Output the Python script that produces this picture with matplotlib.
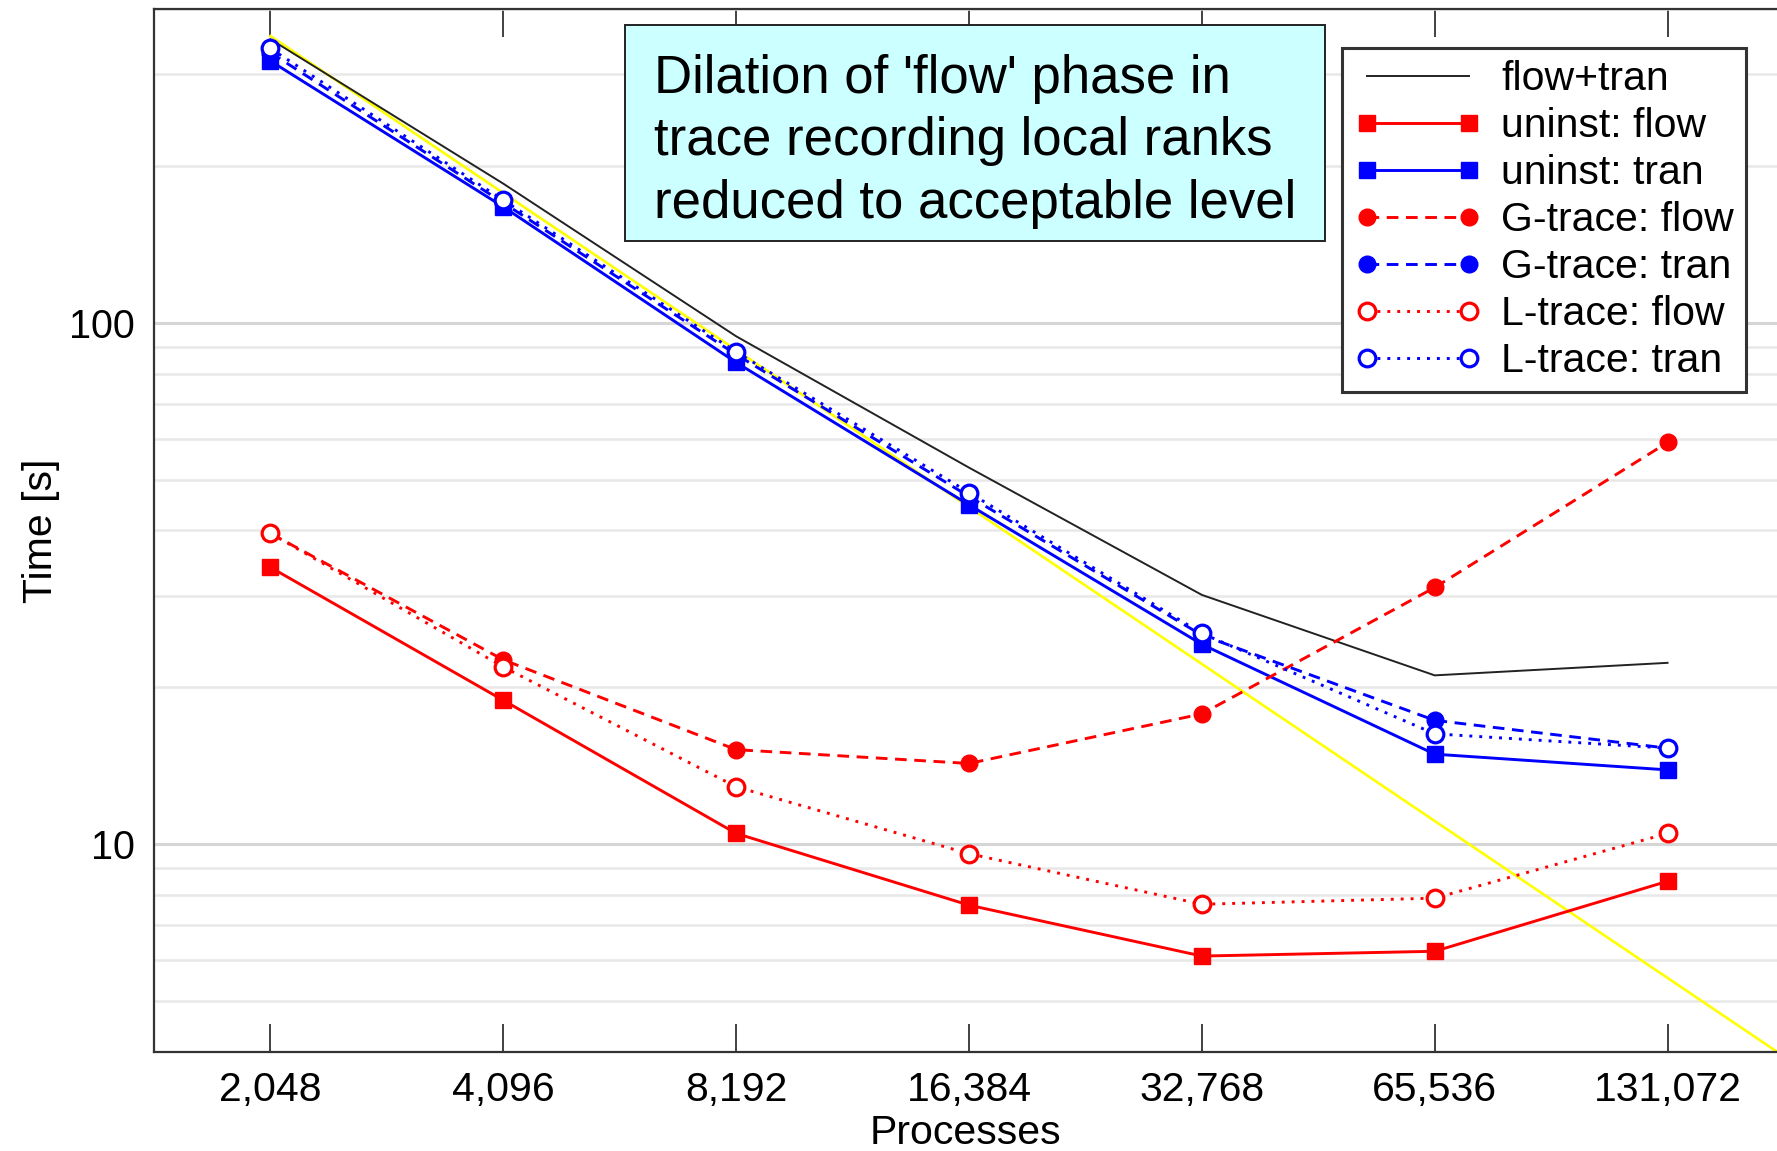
import matplotlib
matplotlib.use("Agg")
import matplotlib.pyplot as plt
from matplotlib.patches import Rectangle
from matplotlib.ticker import FixedLocator, NullFormatter, NullLocator, FuncFormatter
import numpy as np

plt.rcParams["font.family"] = ["Liberation Sans", "DejaVu Sans"]

# processes (x) and times in seconds
PROCS = [2048, 4096, 8192, 16384, 32768, 65536, 131072]
PROC_LABELS = ["2,048", "4,096", "8,192", "16,384", "32,768", "65,536", "131,072"]

FLOW_TRAN    = [350, 185, 94.3, 52.8, 30.1, 21.1, 22.3]
UNINST_FLOW  = [34.0, 18.9, 10.5, 7.65, 6.11, 6.24, 8.5]
UNINST_TRAN  = [318, 167, 84.0, 44.8, 24.2, 14.9, 13.9]
GTRACE_FLOW  = [39.5, 22.6, 15.2, 14.3, 17.8, 31.1, 59.0]
GTRACE_TRAN  = [330, 170, 87.0, 46.5, 25.2, 17.3, 15.3]
LTRACE_FLOW  = [39.5, 21.9, 12.9, 9.6, 7.68, 7.89, 10.5]
LTRACE_TRAN  = [336, 172, 88.0, 47.3, 25.4, 16.3, 15.3]

# ideal (perfect strong scaling) reference starting value at 2,048
IDEAL_T0 = 355

NOTE = "Dilation of 'flow' phase in\ntrace recording local ranks\nreduced to acceptable level"

W, H = 1777, 1151
fig = plt.figure(figsize=(W / 100, H / 100), dpi=100)
ax = fig.add_axes([154 / W, 1 - 1052 / H, 1 - 154 / W, (1052 - 9) / H])

P = np.array(PROCS, float)

# yellow ideal-scaling line, runs off the bottom right
p_ideal = np.array([P[0], P[-1] * 2])
ax.plot(p_ideal, IDEAL_T0 * P[0] / p_ideal, color="#ffff00", lw=1.9, zorder=2)

ax.plot(P, FLOW_TRAN, color="#222222", lw=1.4, label="flow+tran", zorder=3)

RED, BLUE = "#ff0000", "#0000ff"
dash = (0, (4, 2.6))
dot = (0, (1, 2.4))
ms, lw = 12, 2.1
ax.plot(P, UNINST_FLOW, color=RED, lw=lw, marker="s", ms=ms - 1, label="uninst: flow", zorder=4)
ax.plot(P, UNINST_TRAN, color=BLUE, lw=lw, marker="s", ms=ms - 1, label="uninst: tran", zorder=4)
ax.plot(P, GTRACE_FLOW, color=RED, lw=lw, ls=dash, marker="o", ms=ms, label="G-trace: flow", zorder=5)
ax.plot(P, GTRACE_TRAN, color=BLUE, lw=lw, ls=dash, marker="o", ms=ms, label="G-trace: tran", zorder=5)
ax.plot(P, LTRACE_FLOW, color=RED, lw=lw, ls=dot, marker="o", ms=ms, mfc="white",
        mew=2.3, label="L-trace: flow", zorder=6)
ax.plot(P, LTRACE_TRAN, color=BLUE, lw=lw, ls=dot, marker="o", ms=ms, mfc="white",
        mew=2.3, label="L-trace: tran", zorder=6)

ax.set_xscale("log", base=2)
ax.set_yscale("log")
ax.set_xlim(2 ** 10.5, 2 ** 17.47)
ax.set_ylim(4, 400)

ax.xaxis.set_major_locator(FixedLocator(PROCS))
ax.xaxis.set_minor_locator(NullLocator())
ax.set_xticklabels(PROC_LABELS)
ax.yaxis.set_major_formatter(FuncFormatter(lambda v, _: f"{v:g}"))
ax.yaxis.set_minor_formatter(NullFormatter())
ax.tick_params(axis="x", which="major", direction="in", top=True, length=20,
               width=1.3, color="#333333", labelsize=29.5, pad=14)
ax.tick_params(axis="y", which="both", length=0, labelsize=28.5, pad=14)

ax.grid(axis="y", which="major", color="#d6d6d6", lw=2.2, zorder=0)
ax.grid(axis="y", which="minor", color="#e8e8e8", lw=1.8, zorder=0)
ax.set_axisbelow(True)

for s in ("left", "top", "bottom"):
    ax.spines[s].set_color("#333333")
    ax.spines[s].set_linewidth(1.6)
ax.spines["right"].set_visible(False)

ax.set_xlabel("Processes", fontsize=29.5, labelpad=3)
ax.set_ylabel("Time [s]", fontsize=29.5, labelpad=6)

leg = ax.legend(loc="upper right", bbox_to_anchor=(1746 / W, 1 - 47.6 / H),
                bbox_transform=fig.transFigure, borderaxespad=0, numpoints=2,
                fontsize=29.5, handlelength=3.1, handletextpad=0.47,
                labelspacing=0.22, borderpad=0.3, fancybox=False,
                framealpha=1, edgecolor="#333333")
leg.get_frame().set_linewidth(2.2)

# annotation box in figure pixels
bx0, by0, bx1, by1 = 624.5, 24.9, 1324.9, 241.4
fig.patches.append(Rectangle((bx0 / W, 1 - by1 / H), (bx1 - bx0) / W, (by1 - by0) / H,
                             transform=fig.transFigure, facecolor="#ccffff",
                             edgecolor="#222222", lw=1.4, zorder=5))
fig.text(654 / W, 1 - 141.5 / H, NOTE, fontsize=38, va="center", ha="left",
         linespacing=1.32, zorder=6)

fig.savefig("out.png", dpi=100)
